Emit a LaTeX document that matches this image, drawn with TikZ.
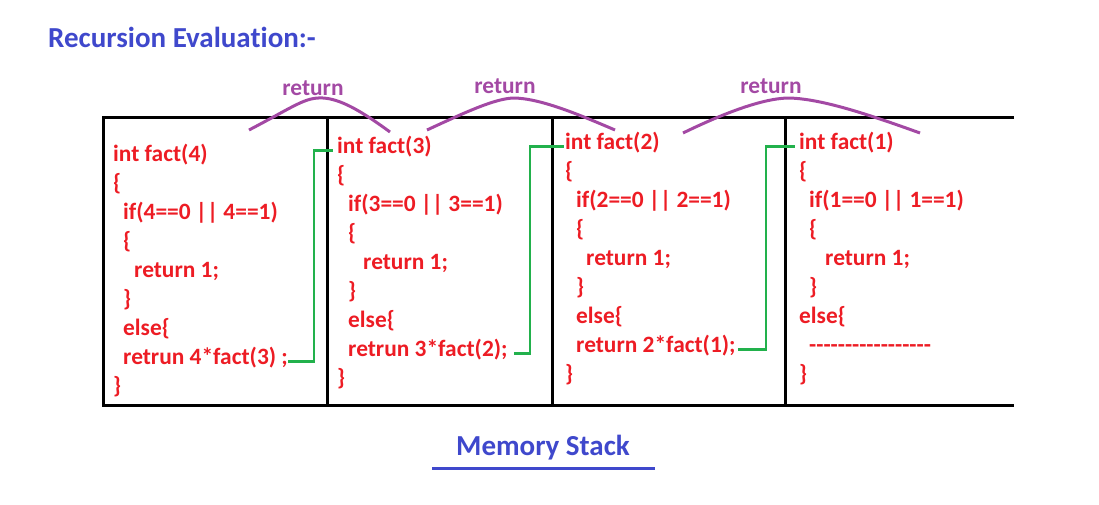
\documentclass[tikz,border=0pt]{standalone}
\usepackage{fontspec}
\setmainfont{Carlito}[Ligatures={TeXOff,NoCommon}]
\usepackage{xcolor}
\usetikzlibrary{positioning}
\definecolor{codered}{HTML}{ED1C24}
\definecolor{linkgreen}{HTML}{22B14C}
\definecolor{retpurple}{HTML}{A349A4}
\definecolor{titleblue}{HTML}{3F48CC}

\begin{document}
\begin{tikzpicture}[x=1pt, y=-1pt,
    code/.style={text=codered, font=\fontsize{23.4}{28}\selectfont\bfseries, inner sep=0pt, anchor=base west},
    heading/.style={text=titleblue, font=\fontsize{29}{34}\selectfont\bfseries, inner sep=0pt},
    retlabel/.style={text=retpurple, font=\fontsize{23.4}{28}\selectfont\bfseries, inner sep=0pt, anchor=base},
    frame/.style={line width=3pt},
    link/.style={draw=linkgreen, line width=2.5pt},
    hop/.style={draw=retpurple, line width=3pt}]
    \useasboundingbox (0,0) rectangle (1099,504);

    % Title
    \node[heading, anchor=base west] (title) at (48,47) {Recursion Evaluation:-};

    % Memory stack frame
    \draw[frame] (1014,117) -- (103,117) -- (103,405) -- (1014,405);
    \foreach \x in {327,552,785}
        \draw[frame] (\x,117) -- (\x,405);

    % fact(4)
    \foreach \txt/\dx [count=\i from 0] in {int fact(4)/0, \{/0, if(4==0 || 4==1)/10, \{/10,
        return 1;/21, \}/10, else\{/10, retrun 4*fact(3) ;/10, \}/0}
        \node[code] (f4-\i) at (113+\dx,161+29*\i) {\txt};

    % fact(3)
    \foreach \txt/\dx [count=\i from 0] in {int fact(3)/0, \{/0, if(3==0 || 3==1)/11, \{/11,
        return 1;/26, \}/11, else\{/11, retrun 3*fact(2);/11, \}/0}
        \node[code] (f3-\i) at (337+\dx,153+29*\i) {\txt};

    % fact(2)
    \foreach \txt/\dx [count=\i from 0] in {int fact(2)/0, \{/0, if(2==0 || 2==1)/11, \{/11,
        return 1;/21, \}/11, else\{/11, return 2*fact(1);/11, \}/0}
        \node[code] (f2-\i) at (565+\dx,149+29*\i) {\txt};

    % fact(1)
    \foreach \txt/\dx [count=\i from 0] in {int fact(1)/0, \{/0, if(1==0 || 1==1)/10, \{/10,
        return 1;/26, \}/10, else\{/0, -----------------/10, \}/0}
        \node[code] (f1-\i) at (799+\dx,149+29*\i) {\txt};

    % Calls
    \draw[link] (f4-7.mid east) -- ++(26,0) |- ([xshift=-4pt]f3-0.mid west);
    \draw[link] ([xshift=6pt]f3-7.mid east) -- ++(16,0) |- ([xshift=-1pt]f2-0.mid west);
    \draw[link] ([xshift=2pt]f2-7.mid east) -- ++(28,0) |- ([xshift=-4pt]f1-0.mid west);

    % Returns
    \node[retlabel] (ret3) at (313,95) {return};
    \node[retlabel] (ret2) at (505,93) {return};
    \node[retlabel] (ret1) at (771,93) {return};
    \draw[hop] (249,130) .. controls (295,106) and (305,97) .. (323,98)
        .. controls (340,99) and (360,110) .. (390,132);
    \draw[hop] (427,130) .. controls (470,110) and (495,99) .. (513,98)
        .. controls (540,98) and (580,115) .. (615,130);
    \draw[hop] (683,133) .. controls (720,115) and (760,99) .. (787,98)
        .. controls (820,98) and (870,115) .. (920,133);

    % Memory stack label
    \node[heading, anchor=base] (stack) at (543,455) {Memory Stack};
    \draw[titleblue, line width=3pt] (432,468) -- (655,468);
\end{tikzpicture}
\end{document}
